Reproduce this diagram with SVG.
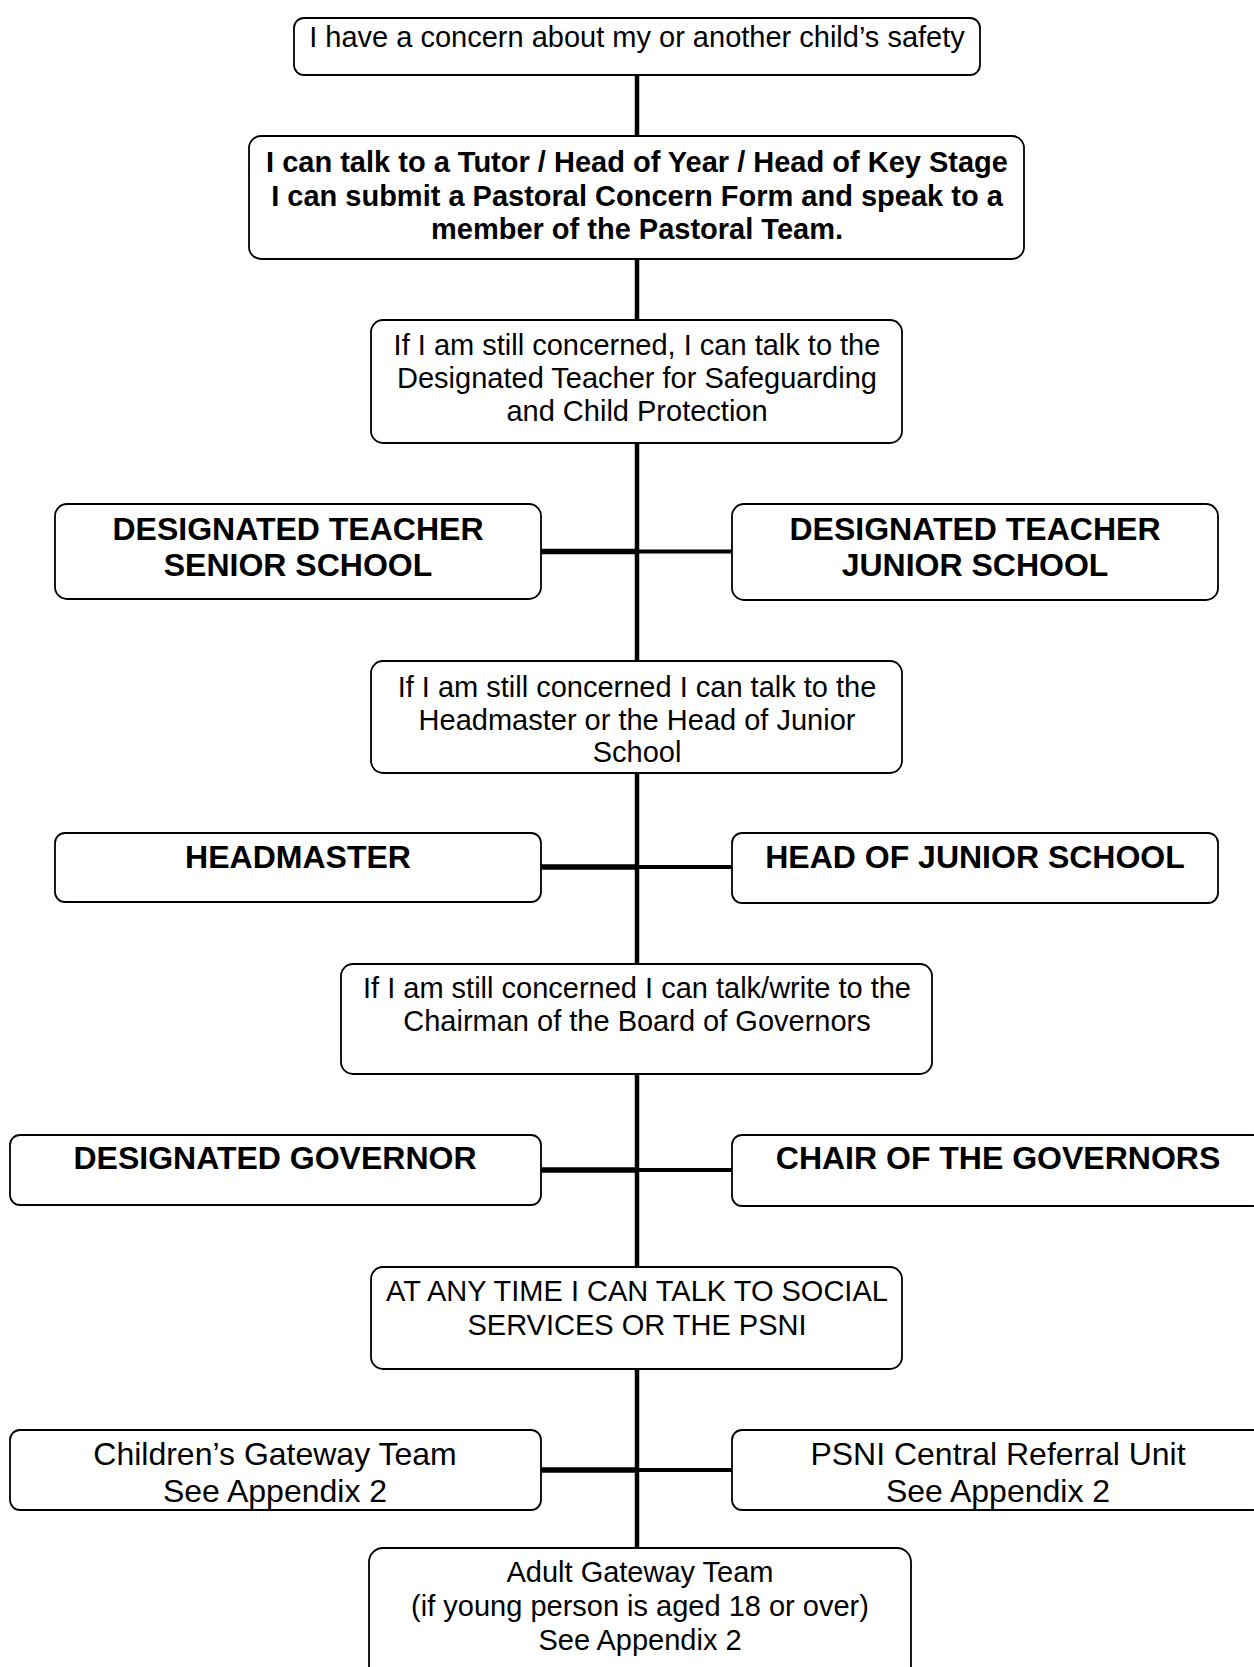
<svg xmlns="http://www.w3.org/2000/svg" width="1254" height="1667" viewBox="0 0 1254 1667">
<style>
.box{fill:#fff;stroke:#000;stroke-width:1.8}
.t{font-family:"Liberation Sans",Arial,sans-serif;font-size:29px;fill:#000;text-anchor:middle}
.b{font-weight:bold}
.big{font-size:32px}
.ln{stroke:#000;fill:none}
</style>
<rect width="1254" height="1667" fill="#fff"/>
<g id="connectors">
<line class="ln" x1="637" y1="75" x2="637" y2="1548" stroke-width="4.5"/>
<line class="ln" x1="541" y1="551.5" x2="637" y2="551.5" stroke-width="5.5"/>
<line class="ln" x1="637" y1="551.5" x2="732" y2="551.5" stroke-width="4"/>
<line class="ln" x1="541" y1="867" x2="637" y2="867" stroke-width="5.5"/>
<line class="ln" x1="637" y1="867" x2="732" y2="867" stroke-width="4"/>
<line class="ln" x1="541" y1="1170" x2="637" y2="1170" stroke-width="5.5"/>
<line class="ln" x1="637" y1="1170" x2="732" y2="1170" stroke-width="4"/>
<line class="ln" x1="541" y1="1470" x2="637" y2="1470" stroke-width="5.5"/>
<line class="ln" x1="637" y1="1470" x2="732" y2="1470" stroke-width="4"/>
</g>
<g id="n1"><rect class="box" x="294" y="18" width="686" height="57" rx="10"/>
<text class="t" x="637" y="47">I have a concern about my or another child’s safety</text></g>
<g id="n2"><rect class="box" x="249" y="136" width="775" height="123" rx="12"/>
<text class="t b" x="637" y="172">I can talk to a Tutor / Head of Year / Head of Key Stage</text>
<text class="t b" x="637" y="206">I can submit a Pastoral Concern Form and speak to a</text>
<text class="t b" x="637" y="239">member of the Pastoral Team.</text></g>
<g id="n3"><rect class="box" x="371" y="320" width="531" height="123" rx="12"/>
<text class="t" x="637" y="355">If I am still concerned, I can talk to the</text>
<text class="t" x="637" y="388">Designated Teacher for Safeguarding</text>
<text class="t" x="637" y="421">and Child Protection</text></g>
<g id="n4"><rect class="box" x="55" y="504" width="486" height="95" rx="12"/>
<text class="t b big" x="298" y="540">DESIGNATED TEACHER</text>
<text class="t b big" x="298" y="576">SENIOR SCHOOL</text></g>
<g id="n5"><rect class="box" x="732" y="504" width="486" height="96" rx="12"/>
<text class="t b big" x="975" y="540">DESIGNATED TEACHER</text>
<text class="t b big" x="975" y="576">JUNIOR SCHOOL</text></g>
<g id="n6"><rect class="box" x="371" y="661" width="531" height="112" rx="12"/>
<text class="t" x="637" y="697">If I am still concerned I can talk to the</text>
<text class="t" x="637" y="730">Headmaster or the Head of Junior</text>
<text class="t" x="637" y="762">School</text></g>
<g id="n7"><rect class="box" x="55" y="833" width="486" height="69" rx="10"/>
<text class="t b big" x="298" y="868">HEADMASTER</text></g>
<g id="n8"><rect class="box" x="732" y="833" width="486" height="70" rx="10"/>
<text class="t b big" x="975" y="868">HEAD OF JUNIOR SCHOOL</text></g>
<g id="n9"><rect class="box" x="341" y="964" width="591" height="110" rx="12"/>
<text class="t" x="637" y="998">If I am still concerned I can talk/write to the</text>
<text class="t" x="637" y="1031">Chairman of the Board of Governors</text></g>
<g id="n10"><rect class="box" x="10" y="1135" width="531" height="70" rx="10"/>
<text class="t b big" x="275" y="1169">DESIGNATED GOVERNOR</text></g>
<g id="n11"><rect class="box" x="732" y="1135" width="531" height="71" rx="10"/>
<text class="t b big" x="998" y="1169">CHAIR OF THE GOVERNORS</text></g>
<g id="n12"><rect class="box" x="371" y="1267" width="531" height="102" rx="12"/>
<text class="t" x="637" y="1301">AT ANY TIME I CAN TALK TO SOCIAL</text>
<text class="t" x="637" y="1335">SERVICES OR THE PSNI</text></g>
<g id="n13"><rect class="box" x="10" y="1430" width="531" height="80" rx="10"/>
<text class="t big" x="275" y="1465">Children’s Gateway Team</text>
<text class="t big" x="275" y="1502">See Appendix 2</text></g>
<g id="n14"><rect class="box" x="732" y="1430" width="531" height="80" rx="10"/>
<text class="t big" x="998" y="1465">PSNI Central Referral Unit</text>
<text class="t big" x="998" y="1502">See Appendix 2</text></g>
<g id="n15"><rect class="box" x="369" y="1548" width="542" height="135" rx="14"/>
<text class="t" x="640" y="1582">Adult Gateway Team</text>
<text class="t" x="640" y="1616">(if young person is aged 18 or over)</text>
<text class="t" x="640" y="1650">See Appendix 2</text></g>
</svg>
